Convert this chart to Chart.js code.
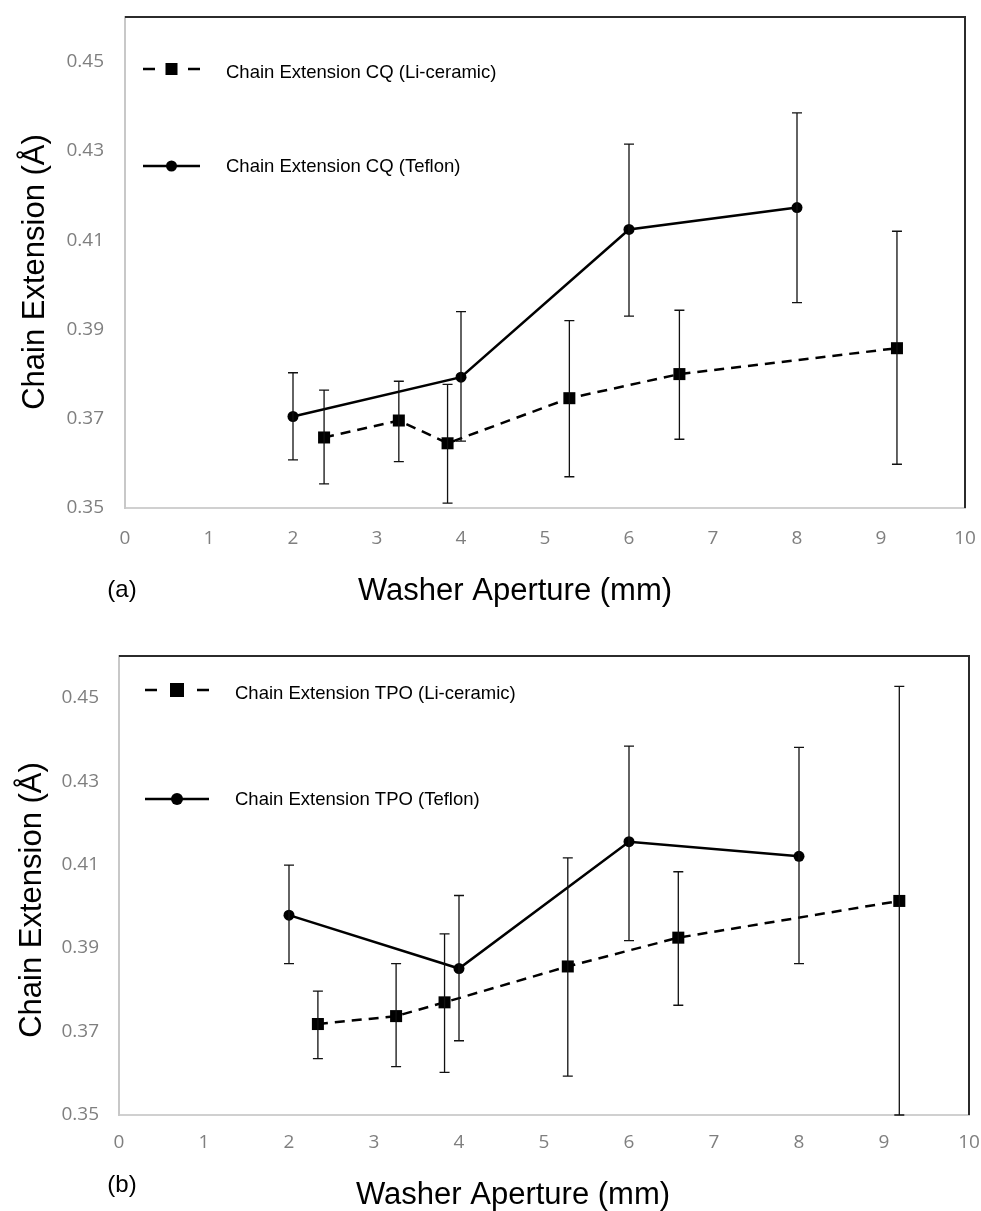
<!DOCTYPE html>
<html><head><meta charset="utf-8">
<script src="https://cdn.jsdelivr.net/npm/chart.js@4.4.1/dist/chart.umd.min.js"></script>
<style>
html,body{margin:0;padding:0;background:#fff;}
#wrap{position:relative;width:981px;height:1211px;overflow:hidden;background:#fff;}
canvas{position:absolute;left:0;}
</style></head><body>
<div id="wrap">
<canvas id="chartA" width="981" height="640" style="top:0;width:981px;height:640px"></canvas>
<canvas id="chartB" width="981" height="611" style="top:600px;width:981px;height:611px"></canvas>
</div>
<script>
// ---- tick labels ----
const xTickValues = [0, 1, 2, 3, 4, 5, 6, 7, 8, 9, 10];
const yTickValues = [0.35, 0.37, 0.39, 0.41, 0.43, 0.45];

// ---- panel (a): CQ ----
const labelCeramicA = 'Chain Extension CQ (Li-ceramic)';
const labelTeflonA = 'Chain Extension CQ (Teflon)';
const xCeramicA  = [2.37, 3.26, 3.84, 5.29, 6.60, 9.19];
const yCeramicA  = [0.3658, 0.3696, 0.3645, 0.3746, 0.3800, 0.3858];
const hiCeramicA = [0.3764, 0.3784, 0.3777, 0.3920, 0.3943, 0.4120];
const loCeramicA = [0.3554, 0.3604, 0.3511, 0.3570, 0.3654, 0.3598];
const xTeflonA   = [2, 4, 6, 8];
const yTeflonA   = [0.3705, 0.3793, 0.4124, 0.4173];
const hiTeflonA  = [0.3803, 0.3940, 0.4315, 0.4385];
const loTeflonA  = [0.3608, 0.3650, 0.3930, 0.3960];

// ---- panel (b): TPO ----
const labelCeramicB = 'Chain Extension TPO (Li-ceramic)';
const labelTeflonB = 'Chain Extension TPO (Teflon)';
const xCeramicB  = [2.34, 3.26, 3.83, 5.28, 6.58, 9.18];
const yCeramicB  = [0.3718, 0.3737, 0.3770, 0.3856, 0.3925, 0.4013];
const hiCeramicB = [0.3797, 0.3863, 0.3934, 0.4116, 0.4083, 0.4527];
const loCeramicB = [0.3635, 0.3616, 0.3602, 0.3593, 0.3763, 0.3500];
const xTeflonB   = [2, 4, 6, 8];
const yTeflonB   = [0.3979, 0.3851, 0.4155, 0.4120];
const hiTeflonB  = [0.4099, 0.4026, 0.4384, 0.4381];
const loTeflonB  = [0.3863, 0.3678, 0.3918, 0.3863];

const xTitle = 'Washer Aperture (mm)';
const yTitle = 'Chain Extension (Å)';

function pts(xs, ys, hi, lo) {
  return xs.map((x, i) => ({x: x, y: ys[i], hi: hi[i], lo: lo[i]}));
}

const extrasPlugin = {
  id: 'extras',
  afterDatasetsDraw(chart, args, o) {
    const ctx = chart.ctx;
    const xs = chart.scales.x, ys = chart.scales.y;
    ctx.save();
    ctx.strokeStyle = '#111';
    ctx.lineWidth = 1.3;
    ctx.setLineDash([]);
    chart.data.datasets.forEach(ds => {
      ds.data.forEach(p => {
        const px = xs.getPixelForValue(p.x);
        const yH = ys.getPixelForValue(p.hi);
        const yL = ys.getPixelForValue(p.lo);
        ctx.beginPath();
        ctx.moveTo(px, yH); ctx.lineTo(px, yL);
        ctx.moveTo(px - 5, yH); ctx.lineTo(px + 5, yH);
        ctx.moveTo(px - 5, yL); ctx.lineTo(px + 5, yL);
        ctx.stroke();
      });
    });
    ctx.restore();
  },
  afterDraw(chart, args, o) {
    const ctx = chart.ctx;
    const {left, right, top, bottom} = chart.chartArea;
    ctx.save();
    // top & right frame
    ctx.strokeStyle = '#2b2b2b';
    ctx.lineWidth = 2;
    ctx.beginPath();
    ctx.moveTo(left, top); ctx.lineTo(right, top); ctx.lineTo(right, bottom);
    ctx.stroke();

    // legend
    const dsets = chart.data.datasets;
    o.legend.forEach((it, i) => {
      const ds = dsets[i];
      ctx.strokeStyle = '#000';
      ctx.fillStyle = '#000';
      ctx.lineWidth = 2.5;
      ctx.setLineDash([]);
      const mid = (it.x1 + it.x2) / 2;
      if (ds.pointStyle === 'rect') {
        ctx.beginPath();
        ctx.moveTo(it.x1, it.y); ctx.lineTo(it.x1 + 12, it.y);
        ctx.moveTo(it.x2 - 12, it.y); ctx.lineTo(it.x2, it.y);
        ctx.stroke();
        const s = it.ms;
        ctx.fillRect(mid - s / 2, it.y - s / 2, s, s);
      } else {
        ctx.beginPath();
        ctx.moveTo(it.x1, it.y); ctx.lineTo(it.x2, it.y);
        ctx.stroke();
        ctx.beginPath();
        ctx.arc(mid, it.y, it.ms / 2, 0, Math.PI * 2);
        ctx.fill();
      }
      ctx.font = '18.5px "Liberation Sans", Arial, sans-serif';
      ctx.textAlign = 'left';
      ctx.textBaseline = 'alphabetic';
      ctx.fillText(ds.label, it.tx, it.ty);
    });

    // axis titles and panel letter
    ctx.fillStyle = '#000';
    ctx.font = '31px "Liberation Sans", Arial, sans-serif';
    ctx.textAlign = 'center';
    ctx.textBaseline = 'alphabetic';
    ctx.fillText(o.xTitle.text, o.xTitle.x, o.xTitle.y);
    ctx.save();
    ctx.translate(o.yTitle.x, o.yTitle.y);
    ctx.rotate(-Math.PI / 2);
    ctx.fillText(o.yTitle.text, 0, 0);
    ctx.restore();
    ctx.font = '24px "Liberation Sans", Arial, sans-serif';
    ctx.fillText(o.panel.text, o.panel.x, o.panel.y);
    ctx.restore();
  }
};

function makeChart(id, g, dsC, dsT, extras) {
  return new Chart(document.getElementById(id), {
    type: 'line',
    data: {
      datasets: [
        Object.assign({
          borderColor: '#000', backgroundColor: '#000', borderWidth: 2.5,
          borderDash: [10, 7], pointStyle: 'rect', pointRadius: 8.5,
          pointBorderWidth: 0, pointBackgroundColor: '#000', tension: 0, fill: false
        }, dsC),
        Object.assign({
          borderColor: '#000', backgroundColor: '#000', borderWidth: 2.5,
          pointStyle: 'circle', pointRadius: 5.5,
          pointBorderWidth: 0, pointBackgroundColor: '#000', tension: 0, fill: false
        }, dsT)
      ]
    },
    options: {
      responsive: false,
      animation: false,
      devicePixelRatio: 1,
      layout: {padding: {left: 0, top: g.padTop, right: g.padRight, bottom: 0}},
      plugins: {
        legend: {display: false},
        tooltip: {enabled: false},
        extras: extras
      },
      scales: {
        x: {
          type: 'linear', min: 0, max: 10,
          afterBuildTicks: s => { s.ticks = xTickValues.map(v => ({value: v})); },
          afterFit: s => { s.height = g.xHeight; s.paddingLeft = 0; s.paddingRight = 0; s.paddingTop = 0; s.paddingBottom = 0; },
          grid: {display: true, drawOnChartArea: false, drawTicks: false},
          border: {display: true, color: '#d0d0d0', width: 2},
          ticks: {
            padding: g.xPad, color: '#7f7f7f', maxRotation: 0, autoSkip: false,
            font: {family: '"Open Sans", sans-serif', size: 19},
            callback: v => String(v)
          }
        },
        y: {
          type: 'linear', min: 0.35, max: 0.46,
          afterBuildTicks: s => { s.ticks = yTickValues.map(v => ({value: v})); },
          afterFit: s => { s.width = g.yWidth; s.paddingLeft = 0; s.paddingRight = 0; s.paddingTop = 0; s.paddingBottom = 0; },
          grid: {display: true, drawOnChartArea: false, drawTicks: false},
          border: {display: true, color: '#c8c8c8', width: 2},
          ticks: {
            padding: g.yPad, color: '#7f7f7f', autoSkip: false,
            font: {family: '"Open Sans", sans-serif', size: 19},
            callback: v => Number(v).toFixed(2)
          }
        }
      }
    },
    plugins: [extrasPlugin]
  });
}

makeChart('chartA',
  {padTop: 17, padRight: 16, xHeight: 132, yWidth: 125, xPad: 19, yPad: 21},
  {label: labelCeramicA, data: pts(xCeramicA, yCeramicA, hiCeramicA, loCeramicA)},
  {label: labelTeflonA, data: pts(xTeflonA, yTeflonA, hiTeflonA, loTeflonA)},
  {
    legend: [
      {x1: 143, x2: 200, y: 69, ms: 12, tx: 226, ty: 77.5},
      {x1: 143, x2: 200, y: 166, ms: 11, tx: 226, ty: 171.5}
    ],
    xTitle: {text: xTitle, x: 515, y: 600},
    yTitle: {text: yTitle, x: 44, y: 272},
    panel: {text: '(a)', x: 122, y: 597}
  }
);

makeChart('chartB',
  {padTop: 56, padRight: 12, xHeight: 96, yWidth: 119, xPad: 16, yPad: 20},
  {label: labelCeramicB, data: pts(xCeramicB, yCeramicB, hiCeramicB, loCeramicB)},
  {label: labelTeflonB, data: pts(xTeflonB, yTeflonB, hiTeflonB, loTeflonB)},
  {
    legend: [
      {x1: 145, x2: 209, y: 90, ms: 14, tx: 235, ty: 98.5},
      {x1: 145, x2: 209, y: 199, ms: 12, tx: 235, ty: 205}
    ],
    xTitle: {text: xTitle, x: 513, y: 604},
    yTitle: {text: yTitle, x: 41, y: 300},
    panel: {text: '(b)', x: 122, y: 592}
  }
);
</script>
</body></html>
